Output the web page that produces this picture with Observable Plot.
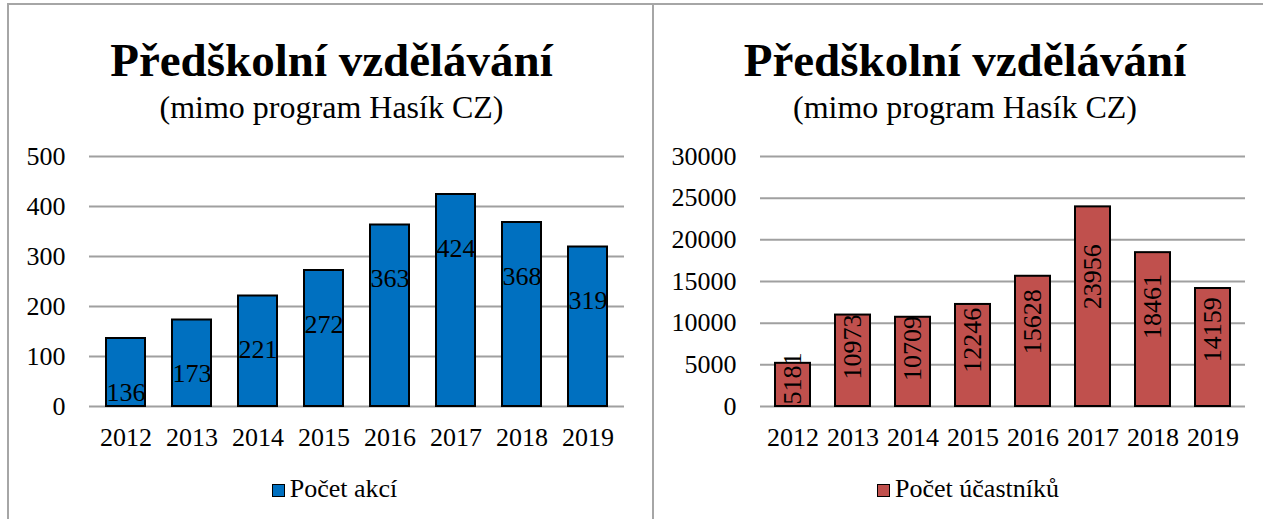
<!DOCTYPE html>
<html>
<head>
<meta charset="utf-8">
<script src="https://cdn.jsdelivr.net/npm/d3@7"></script>
<script src="https://cdn.jsdelivr.net/npm/@observablehq/plot@0.6"></script>
<style>
  html, body { margin: 0; padding: 0; background: #fff; }
  body { width: 1263px; height: 519px; position: relative; overflow: hidden;
         font-family: "Liberation Serif", "Times New Roman", serif; color: #000; }
  .abs { position: absolute; }
  .title { font-weight: bold; font-size: 47px; line-height: 47px; text-align: center; white-space: nowrap; }
  .sub { font-size: 32px; line-height: 32px; text-align: center; white-space: nowrap; }
  .legend { font-size: 26px; line-height: 26px; text-align: center; white-space: nowrap; }
  .sw { display: inline-block; width: 11px; height: 11px; border: 1.5px solid #000; margin-right: 5px; vertical-align: baseline; }
  .frame { position: absolute; background: #a6a6a6; }
</style>
</head>
<body>
<div class="frame" style="left:8px; top:3px; width:1255px; height:2px;"></div>
<div class="frame" style="left:7px; top:3px; width:2px; height:516px;"></div>
<div class="frame" style="left:652px; top:3px; width:2px; height:516px;"></div>

<div class="abs title" style="left:9px; top:37px; width:645px;">Předškolní vzdělávání</div>
<div class="abs sub" style="left:9px; top:91px; width:645px;">(mimo program Hasík CZ)</div>
<div class="abs title" style="left:653px; top:37px; width:624px;">Předškolní vzdělávání</div>
<div class="abs sub" style="left:653px; top:91px; width:624px;">(mimo program Hasík CZ)</div>

<div id="left" class="abs" style="left:0px; top:130px;"></div>
<div id="right" class="abs" style="left:653px; top:130px;"></div>

<div class="abs legend" style="left:12px; top:476px; width:645px;"><span class="sw" id="sw1"></span>Počet akcí</div>
<div class="abs legend" style="left:653px; top:476px; width:630px;"><span class="sw" id="sw2"></span>Počet účastníků</div>

<script>
// ---- data ----
const years = ["2012", "2013", "2014", "2015", "2016", "2017", "2018", "2019"];
const pocetAkci = [136, 173, 221, 272, 363, 424, 368, 319];
const pocetUcastniku = [5181, 10973, 10709, 12246, 15628, 23956, 18461, 14159];
const ticksAkci = [0, 100, 200, 300, 400, 500];
const ticksUcastniku = [0, 5000, 10000, 15000, 20000, 25000, 30000];

const blue = "#0070C0";
const red = "#C0504D";
const grid = "#a0a0a0";
const font = "Liberation Serif, Times New Roman, serif";

document.getElementById("sw1").style.background = blue;
document.getElementById("sw2").style.background = red;

const leftData = years.map((y, i) => ({year: y, value: pocetAkci[i]}));
const rightData = years.map((y, i) => ({year: y, value: pocetUcastniku[i]}));

const common = (w, ml, mr, ticks) => ({
  width: w,
  height: 330,
  marginTop: 26,
  marginBottom: 54,
  marginLeft: ml,
  marginRight: mr,
  style: {fontFamily: font, fontSize: "26px", background: "transparent", color: "#000", overflow: "visible"},
  x: {type: "band", domain: years, paddingInner: 0.415, paddingOuter: 0.2075, tickSize: 0, tickPadding: 21, label: null},
  y: {domain: [ticks[0], ticks[ticks.length - 1]], ticks: ticks, tickSize: 0, tickPadding: 24, tickFormat: d3.format("d"), label: null}
});

const leftPlot = Plot.plot({
  ...common(653, 89, 29, ticksAkci),
  marks: [
    Plot.ruleY(ticksAkci, {stroke: grid, strokeWidth: 2}),
    Plot.barY(leftData, {x: "year", y: "value", fill: blue, stroke: "#000", strokeWidth: 2}),
    Plot.text(leftData, {x: "year", y: "value", text: d => String(d.value), dy: 54, lineAnchor: "middle", fontSize: 26, fill: "#000"})
  ]
});
document.getElementById("left").appendChild(leftPlot);

const rightPlot = Plot.plot({
  ...common(610, 107, 18, ticksUcastniku),
  marks: [
    Plot.ruleY(ticksUcastniku, {stroke: grid, strokeWidth: 2}),
    Plot.barY(rightData, {x: "year", y: "value", fill: red, stroke: "#000", strokeWidth: 2}),
    Plot.text(rightData, {x: "year", y: d => d.value * 0.65, text: d => String(d.value), rotate: -90, textAnchor: "middle", lineAnchor: "middle", fontSize: 26, fill: "#000"})
  ]
});
document.getElementById("right").appendChild(rightPlot);
</script>
</body>
</html>
